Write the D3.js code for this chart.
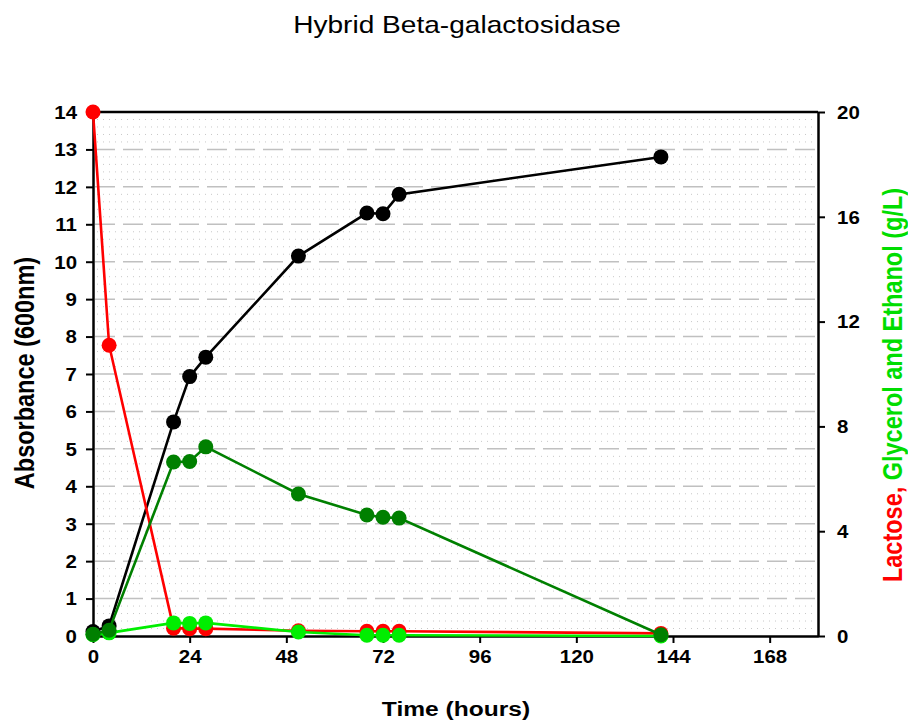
<!DOCTYPE html>
<html>
<head>
<meta charset="utf-8">
<script src="https://cdn.jsdelivr.net/npm/d3@7"></script>
<style>
  body { margin: 0; background: #fff; }
  svg { display: block; font-family: "Liberation Sans", Arial, sans-serif; }
</style>
</head>
<body>
<svg id="chart" width="908" height="726"></svg>
<script>
// ---- Data ----
const title = "Hybrid Beta-galactosidase";
const xTicks = [0, 24, 48, 72, 96, 120, 144, 168];
const leftTicks = [0, 1, 2, 3, 4, 5, 6, 7, 8, 9, 10, 11, 12, 13, 14];
const rightTicks = [0, 4, 8, 12, 16, 20];

const timeAbs = [0, 4, 20, 24, 28, 51, 68, 72, 76, 141];
const absorbance = [0.12, 0.27, 5.72, 6.93, 7.45, 10.15, 11.3, 11.28, 11.8, 12.8];

const timeConc = [0, 4, 20, 24, 28, 51, 68, 72, 76, 141];
const lactose = [20, 11.1, 0.3, 0.28, 0.28, 0.2, 0.18, 0.18, 0.18, 0.1];
const glycerol = [0.07, 0.22, 6.64, 6.66, 7.22, 5.42, 4.62, 4.53, 4.5, 0.05];
const ethanol = [0.05, 0.12, 0.5, 0.48, 0.5, 0.15, 0.03, 0.03, 0.03, 0.0];

// ---- Layout ----
const SX = 1.17; // horizontal text stretch seen in the reference
const svg = d3.select("#chart");
const L = 93, R = 818, T = 112, B = 636;

const x = d3.scaleLinear().domain([0, 180]).range([L, R]);
const yL = d3.scaleLinear().domain([0, 14]).range([B, T]);
const yR = d3.scaleLinear().domain([0, 20]).range([B, T]);

// Minor dotted grid (0.2 units)
const minor = d3.range(0, 14.001, 0.2).filter(v => Math.abs(v - Math.round(v)) > 0.01);
svg.append("g").selectAll("line").data(minor).join("line")
  .attr("x1", L + 4).attr("x2", R - 2)
  .attr("y1", d => yL(d)).attr("y2", d => yL(d))
  .attr("stroke", "#c8c8c8").attr("stroke-width", 1)
  .attr("stroke-dasharray", "1,5");

// Major dashed grid
svg.append("g").selectAll("line").data(leftTicks.filter(d => d > 0 && d < 14)).join("line")
  .attr("x1", L + 2).attr("x2", R - 2)
  .attr("y1", d => yL(d)).attr("y2", d => yL(d))
  .attr("stroke", "#c0c0c0").attr("stroke-width", 1.5)
  .attr("stroke-dasharray", "20,8");

// Frame top line
svg.append("line").attr("x1", L).attr("x2", R).attr("y1", T).attr("y2", T)
  .attr("stroke", "#000").attr("stroke-width", 2.5);

// Axes
const tickFont = g => g.selectAll("text")
  .attr("font-size", 17.5).attr("font-weight", "bold")
  .attr("font-family", "Liberation Sans, Arial, sans-serif").attr("fill", "#000");

const xAxis = svg.append("g").attr("transform", `translate(0,${B})`)
  .call(d3.axisBottom(x).tickValues(xTicks).tickSize(7).tickSizeOuter(0));
xAxis.select(".domain").attr("stroke-width", 2.5);
xAxis.selectAll(".tick line").attr("stroke-width", 2);
tickFont(xAxis);
xAxis.selectAll(".tick text").attr("y", 27).attr("dy", 0)
  .attr("transform", `scale(${SX},1)`);

const yAxisL = svg.append("g").attr("transform", `translate(${L},0)`)
  .call(d3.axisLeft(yL).tickValues(leftTicks).tickSize(7).tickSizeOuter(0));
yAxisL.select(".domain").attr("stroke-width", 2.5);
yAxisL.selectAll(".tick line").attr("stroke-width", 2);
tickFont(yAxisL);
yAxisL.selectAll(".tick text").attr("x", -16 / SX).attr("dy", "0.36em")
  .attr("transform", `scale(${SX},1)`);

const yAxisR = svg.append("g").attr("transform", `translate(${R},0)`)
  .call(d3.axisRight(yR).tickValues(rightTicks).tickSize(7).tickSizeOuter(0));
yAxisR.select(".domain").attr("stroke-width", 2.5);
yAxisR.selectAll(".tick line").attr("stroke-width", 2);
tickFont(yAxisR);
yAxisR.selectAll(".tick text").attr("x", 19 / SX).attr("dy", "0.36em")
  .attr("transform", `scale(${SX},1)`);

// Series drawing helper
function series(times, vals, yScale, color) {
  const pts = times.map((t, i) => [t, vals[i]]);
  const line = d3.line().x(d => x(d[0])).y(d => yScale(d[1]));
  const g = svg.append("g");
  g.append("path").datum(pts).attr("d", line)
    .attr("fill", "none").attr("stroke", color).attr("stroke-width", 2.6);
  g.selectAll("circle").data(pts).join("circle")
    .attr("cx", d => x(d[0])).attr("cy", d => yScale(d[1]))
    .attr("r", 7.5).attr("fill", color);
}

series(timeAbs, absorbance, yL, "#000000");
series(timeConc, lactose, yR, "#ff0000");
series(timeConc, ethanol, yR, "#00ee00");
series(timeConc, glycerol, yR, "#008000");

// Title & labels
svg.append("text").attr("transform", `translate(457,33) scale(${SX},1)`)
  .attr("text-anchor", "middle")
  .attr("font-size", 24).attr("fill", "#000").text(title);

svg.append("text").attr("transform", `translate(456,716) scale(${SX},1)`)
  .attr("text-anchor", "middle")
  .attr("font-size", 21).attr("font-weight", "bold").text("Time (hours)");

svg.append("text").attr("transform", `translate(34,373) scale(${SX},1) rotate(-90)`)
  .attr("text-anchor", "middle").attr("font-size", 23.5).attr("font-weight", "bold")
  .text("Absorbance (600nm)");

const rl = svg.append("text").attr("transform", `translate(902,385) scale(${SX},1) rotate(-90)`)
  .attr("text-anchor", "middle").attr("font-size", 23.5).attr("font-weight", "bold");
rl.append("tspan").attr("fill", "#ff0000").text("Lactose, ");
rl.append("tspan").attr("fill", "#00dd00").text("Glycerol and Ethanol (g/L)");
</script>
</body>
</html>
